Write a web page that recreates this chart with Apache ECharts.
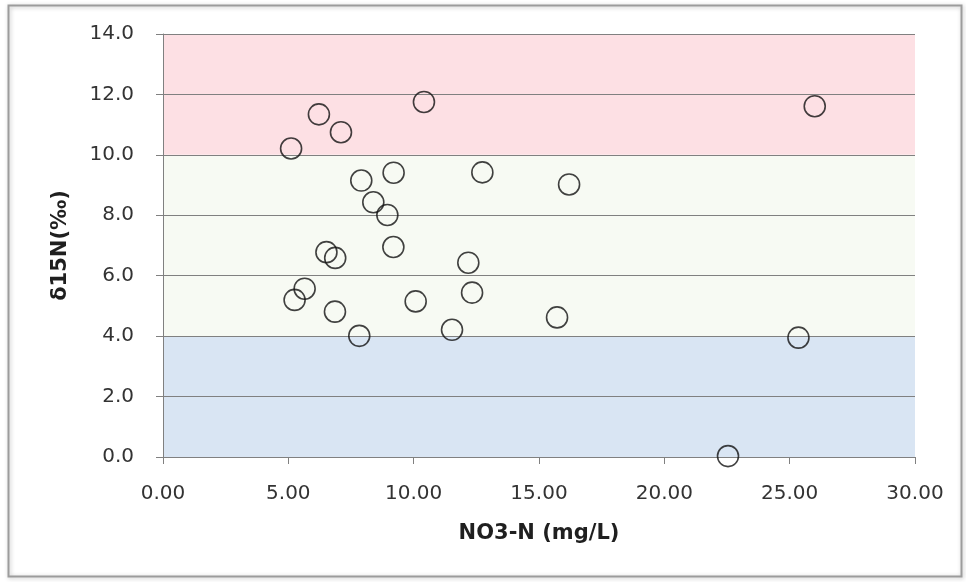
<!DOCTYPE html>
<html>
<head>
<meta charset="utf-8">
<title>δ15N vs NO3-N</title>
<script src="https://cdn.jsdelivr.net/npm/echarts@6/dist/echarts.min.js"></script>
<style>
  html, body { margin: 0; padding: 0; background: #ffffff; }
  #chart { width: 966px; height: 582px; }
</style>
</head>
<body>
<div id="chart"></div>
<script>
// Nitrate concentration (mg/L) of each sample
const nitrate = [5.11, 6.22, 7.10, 10.41, 7.91, 9.20, 8.39, 8.95, 9.19, 6.52, 6.87, 12.18, 26.00,
                 16.20, 12.74, 5.25, 5.65, 6.86, 7.83, 10.08, 11.53, 12.33, 15.72, 25.35, 22.54];
// Nitrogen isotope ratio δ15N (‰) of the same samples
const delta15N = [10.21, 11.34, 10.75, 11.75, 9.15, 9.41, 8.43, 8.01, 6.95, 6.78, 6.59, 6.43, 11.61,
                  9.02, 9.42, 5.20, 5.57, 4.81, 4.01, 5.15, 4.21, 5.44, 4.62, 3.95, 0.03];

// Background source bands along δ15N
const bandRanges = [[0, 4], [4, 10], [10, 14]];
const bandColors = ['#d9e5f3', '#f7faf3', '#fde0e4'];

const points = nitrate.map((x, i) => [x, delta15N[i]]);

const chart = echarts.init(document.getElementById('chart'), null, { renderer: 'canvas' });

const labelFont = { fontFamily: 'DejaVu Sans', fontSize: 20, color: '#333333' };
const titleFont = { fontFamily: 'DejaVu Sans', fontSize: 21, fontWeight: 'bold', color: '#1f1f1f' };

chart.setOption({
  animation: false,
  backgroundColor: '#ffffff',
  graphic: [{
    type: 'rect',
    shape: { x: 8.5, y: 5.5, width: 953, height: 571 },
    style: {
      fill: 'none', stroke: '#9c9c9c', lineWidth: 2,
      shadowColor: 'rgba(0,0,0,0.25)', shadowBlur: 4, shadowOffsetX: 1, shadowOffsetY: 1
    },
    silent: true, z: -10
  }],
  grid: { left: 163, right: 51, top: 34, bottom: 125 },
  xAxis: {
    type: 'value', min: 0, max: 30, interval: 5, z: 1.5,
    name: 'NO3-N (mg/L)', nameLocation: 'middle', nameGap: 66,
    nameTextStyle: titleFont,
    axisLine: { show: true, onZero: false, lineStyle: { color: '#808080', width: 1 } },
    axisTick: { show: true, length: 7, lineStyle: { color: '#808080' } },
    axisLabel: Object.assign({ margin: 27, formatter: v => v.toFixed(2) }, labelFont),
    splitLine: { show: false }
  },
  yAxis: {
    type: 'value', min: 0, max: 14, interval: 2, z: 1.5,
    name: 'δ15N(‰)', nameLocation: 'middle', nameGap: 92, nameRotate: 90,
    nameTextStyle: titleFont,
    axisLine: { show: true, lineStyle: { color: '#808080', width: 1 } },
    axisTick: { show: true, length: 7, lineStyle: { color: '#808080' } },
    axisLabel: Object.assign({ margin: 29, formatter: v => v.toFixed(1) }, labelFont),
    splitLine: { show: true, lineStyle: { color: '#808080', width: 1 } }
  },
  series: [{
    type: 'scatter',
    data: points,
    symbol: 'circle',
    symbolSize: 21,
    itemStyle: { color: 'rgba(0,0,0,0)', borderColor: '#111111', borderWidth: 1.6 },
    markArea: {
      silent: true,
      z: 1,
      data: bandRanges.map((r, i) => [
        { yAxis: r[0], itemStyle: { color: bandColors[i], opacity: 1 } },
        { yAxis: r[1] }
      ])
    }
  }]
});
</script>
</body>
</html>
